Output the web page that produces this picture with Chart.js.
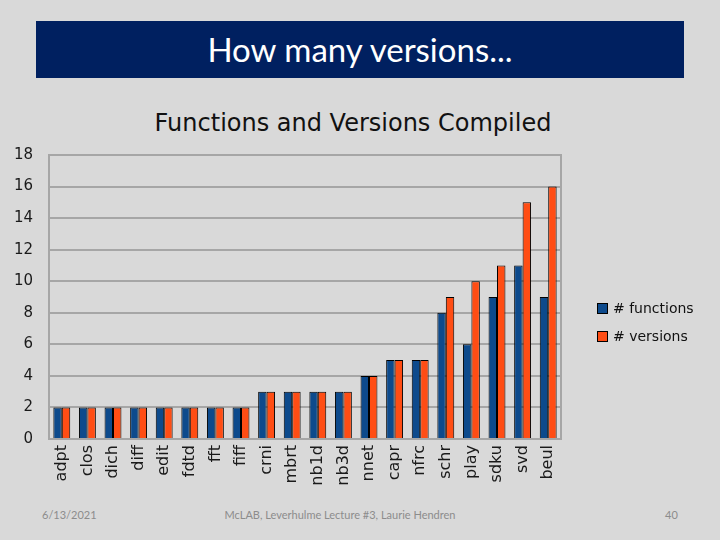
<!DOCTYPE html>
<html>
<head>
<meta charset="utf-8">
<script src="https://cdn.jsdelivr.net/npm/chart.js@4"></script>
<style>
  body { margin: 0; width: 720px; height: 540px; background: #d9d9d9; position: relative; overflow: hidden; font-family: "DejaVu Sans", sans-serif; }
  #banner { position: absolute; left: 36px; top: 21px; width: 648px; height: 57px; background: #002060; color: #fff;
            font-family: Lato, "Open Sans", sans-serif; font-size: 33px; text-align: center; line-height: 57px; }
  #ctitle { position: absolute; left: 0; width: 706px; top: 109px; text-align: center; font-size: 24px; color: #111; }
  #wrap { position: absolute; left: 0; top: 130px; width: 720px; height: 370px; }
  #legend { position: absolute; left: 597px; top: 298px; font-size: 14px; color: #111; }
  #legend div { height: 28px; line-height: 20px; white-space: nowrap; }
  #legend span.sw { display: inline-block; width: 9px; height: 9px; border: 1px solid #000; margin-right: 5px; vertical-align: -1px; }
  .foot { position: absolute; top: 508px; font-family: Lato, sans-serif; font-size: 11px; color: #8c8c8c; }
</style>
</head>
<body>
<div id="banner">How many versions...</div>
<div id="ctitle">Functions and Versions Compiled</div>
<div id="wrap"><canvas id="c"></canvas></div>
<div id="legend"></div>
<div class="foot" style="left:42px">6/13/2021</div>
<div class="foot" style="left:0;width:680px;text-align:center">McLAB, Leverhulme Lecture #3, Laurie Hendren</div>
<div class="foot" style="left:665px">40</div>
<script>
// ---- data ----
const categories = ["adpt", "clos", "dich", "diff", "edit", "fdtd", "fft", "fiff", "crni", "mbrt",
                    "nb1d", "nb3d", "nnet", "capr", "nfrc", "schr", "play", "sdku", "svd", "beul"];
const numFunctions = [2, 2, 2, 2, 2, 2, 2, 2, 3, 3, 3, 3, 4, 5, 5, 8, 6, 9, 11, 9];
const numVersions  = [2, 2, 2, 2, 2, 2, 2, 2, 3, 3, 3, 3, 4, 5, 5, 9, 10, 11, 15, 16];
const seriesNames  = ["# functions", "# versions"];
const seriesColors = ["#0d4a8c", "#ff4d14"];

const datasets = [numFunctions, numVersions].map((d, i) => ({
    label: seriesNames[i],
    data: d,
    backgroundColor: seriesColors[i],
    borderColor: "#000",
    borderWidth: 1,
    categoryPercentage: 0.66,
    barPercentage: 1.0
}));

// legend in html
document.getElementById("legend").innerHTML = datasets.map(ds =>
    `<div><span class="sw" style="background:${ds.backgroundColor}"></span>${ds.label}</div>`).join("");

new Chart(document.getElementById("c"), {
    type: "bar",
    data: { labels: categories, datasets },
    options: {
        responsive: true,
        maintainAspectRatio: false,
        animation: false,
        layout: { padding: { top: 13, right: 159, bottom: 0, left: 0 } },
        plugins: { legend: { display: false }, tooltip: { enabled: false } },
        scales: {
            x: {
                grid: { display: false, drawTicks: false },
                border: { color: "#a6a6a6", width: 2 },
                ticks: {
                    color: "#1a1a1a", font: { family: "DejaVu Sans", size: 16 },
                    minRotation: 90, maxRotation: 90, padding: 6, autoSkip: false
                },
                afterFit: s => { s.height = 61; }
            },
            y: {
                min: 0, max: 18,
                grid: { color: "#a6a6a6", lineWidth: 2, drawTicks: false },
                border: { color: "#a6a6a6", width: 2 },
                ticks: { stepSize: 2, color: "#1a1a1a", font: { family: "DejaVu Sans", size: 15 }, padding: 16 },
                afterFit: s => { s.width = 49; }
            }
        }
    },
    plugins: [{
        id: "frame",
        afterDraw(chart) {
            const { ctx, chartArea: a } = chart;
            ctx.save();
            ctx.strokeStyle = "#a6a6a6";
            ctx.lineWidth = 2;
            ctx.beginPath();
            ctx.moveTo(a.left, a.top);
            ctx.lineTo(a.right, a.top);
            ctx.lineTo(a.right, a.bottom);
            ctx.stroke();
            ctx.restore();
        }
    }]
});
</script>
</body>
</html>
